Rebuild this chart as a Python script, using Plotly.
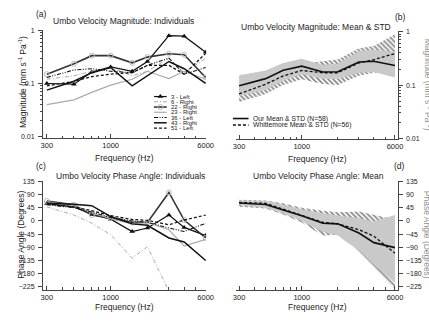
import plotly.graph_objects as go
import numpy as np

# Stimulus frequencies (Hz)
freq = [300, 500, 700, 1000, 1500, 2000, 3000, 4000, 6000]

# (a) Individual umbo velocity magnitudes (mm s^-1 Pa^-1)
mag_3L = [0.10, 0.097, 0.165, 0.205, 0.17, 0.26, 0.80, 0.78, 0.39]
mag_6R = [0.12, 0.14, 0.17, 0.20, 0.14, 0.17, 0.30, 0.16, 0.30]
mag_22R = [0.15, 0.235, 0.335, 0.335, 0.245, 0.315, 0.365, 0.35, 0.13]
mag_23R = [0.04, 0.049, 0.068, 0.093, 0.12, 0.17, 0.124, 0.17, 0.12]
mag_36L = [0.13, 0.18, 0.19, 0.17, 0.16, 0.22, 0.30, 0.15, 0.20]
mag_43R = [0.075, 0.11, 0.16, 0.20, 0.09, 0.14, 0.26, 0.19, 0.10]
mag_51L = [0.09, 0.11, 0.135, 0.15, 0.16, 0.22, 0.22, 0.15, 0.37]

# (c) Individual umbo velocity phase (degrees)
ph_3L = [59, 48, 22, 6, -36, -24, 20, -22, -50]
ph_6R = [48, 20, -8, -47, -127, -88, -240, -300, -330]
ph_22R = [68, 55, 20, 10, -5, -5, 97, 3, -58]
ph_23R = [65, 52, 28, 8, -10, -5, -30, -86, -63]
ph_36L = [55, 45, 30, 12, 0, -5, -24, -36, -8]
ph_43R = [60, 57, 52, 15, -10, -15, -58, -72, -135]
ph_51L = [57, 48, 35, 18, 5, 2, -13, 3, 20]

# (b) Mean magnitude with +/- 1 STD bounds
our_mag_mean = [0.097, 0.132, 0.19, 0.226, 0.176, 0.178, 0.27, 0.28, 0.233]
our_mag_hi = [0.152, 0.188, 0.26, 0.31, 0.24, 0.25, 0.43, 0.46, 0.42]
our_mag_lo = [0.062, 0.082, 0.12, 0.16, 0.13, 0.13, 0.17, 0.176, 0.138]
wh_mag_mean = [0.068, 0.104, 0.148, 0.188, 0.17, 0.17, 0.26, 0.30, 0.39]
wh_mag_hi = [0.095, 0.14, 0.2, 0.25, 0.28, 0.30, 0.49, 0.54, 0.90]
wh_mag_lo = [0.048, 0.068, 0.1, 0.128, 0.105, 0.10, 0.15, 0.17, 0.18]

# (d) Mean phase with +/- 1 STD bounds
our_ph_mean = [61, 56, 37, 18, -8, -10, -41, -74, -91]
our_ph_hi = [70, 68, 55, 40, 26, 20, 9, -2, 20]
our_ph_lo = [54, 45, 25, 0, -38, -50, -100, -150, -210]
wh_ph_mean = [63, 60, 40, 20, -5, -10, -30, -52, -110]
wh_ph_hi = [72, 70, 60, 45, 35, 30, 32, 20, 5]
wh_ph_lo = [48, 42, 22, -5, -50, -47, -105, -160, -235]

ind_names = ["3 - Left", "6 - Right", "22 - Right", "23 - Right",
             "36 - Left", "43 - Right", "51 - Left"]
ind_mag = [mag_3L, mag_6R, mag_22R, mag_23R, mag_36L, mag_43R, mag_51L]
ind_ph = [ph_3L, ph_6R, ph_22R, ph_23R, ph_36L, ph_43R, ph_51L]

# line styles for individual ears
ind_style = [
    dict(line=dict(color="#111", width=1.2), marker=dict(symbol="triangle-up", size=5, color="#111")),
    dict(line=dict(color="#aaa", width=1, dash="4px,2px,1px,2px"), marker=None),
    dict(line=dict(color="#333", width=1.6), marker=dict(symbol="circle-open", size=5, color="#bbb", line=dict(width=1))),
    dict(line=dict(color="#aaa", width=1.2), marker=None),
    dict(line=dict(color="#111", width=1.1, dash="4px,1.5px,1px,1.5px,1px,1.5px"), marker=None),
    dict(line=dict(color="#111", width=1.5), marker=None),
    dict(line=dict(color="#111", width=1.2, dash="3px,2px"), marker=None),
]

fig = go.Figure()

for name, ys, ph, st in zip(ind_names, ind_mag, ind_ph, ind_style):
    for xa, ya, vals in (("x", "y", ys), ("x3", "y3", ph)):
        kw = dict(x=freq, y=vals, xaxis=xa, yaxis=ya, name=name, showlegend=False,
                  line=st["line"], mode="lines+markers" if st["marker"] else "lines")
        if st["marker"]:
            kw["marker"] = st["marker"]
        fig.add_trace(go.Scatter(**kw))

hatch = dict(shape="\\", fgcolor="#111", bgcolor="rgba(255,255,255,0)", size=3.5, solidity=0.5)
band = "#c9c9c9"


def band_traces(xa, ya, wlo, whi, olo, ohi, omean, wmean):
    fig.add_trace(go.Scatter(x=freq, y=wlo, xaxis=xa, yaxis=ya, mode="lines",
                             line=dict(width=0), showlegend=False, hoverinfo="skip"))
    fig.add_trace(go.Scatter(x=freq, y=whi, xaxis=xa, yaxis=ya, mode="lines",
                             line=dict(width=0), fill="tonexty", fillcolor="rgba(0,0,0,0)",
                             fillpattern=hatch, showlegend=False, hoverinfo="skip"))
    fig.add_trace(go.Scatter(x=freq, y=olo, xaxis=xa, yaxis=ya, mode="lines",
                             line=dict(width=0), showlegend=False, hoverinfo="skip"))
    fig.add_trace(go.Scatter(x=freq, y=ohi, xaxis=xa, yaxis=ya, mode="lines",
                             line=dict(width=0), fill="tonexty", fillcolor=band,
                             showlegend=False, hoverinfo="skip"))
    fig.add_trace(go.Scatter(x=freq, y=omean, xaxis=xa, yaxis=ya, mode="lines",
                             line=dict(color="#111", width=1.6), showlegend=False))
    fig.add_trace(go.Scatter(x=freq, y=wmean, xaxis=xa, yaxis=ya, mode="lines",
                             line=dict(color="#111", width=1.3, dash="3px,2px"), showlegend=False))


band_traces("x2", "y2", wh_mag_lo, wh_mag_hi, our_mag_lo, our_mag_hi, our_mag_mean, wh_mag_mean)
band_traces("x4", "y4", wh_ph_lo, wh_ph_hi, our_ph_lo, our_ph_hi, our_ph_mean, wh_ph_mean)

# legend keys drawn on a pixel-space overlay
W, H = 429, 322
leg_y0, leg_dy = 94.3, 5.35
for i, (name, st) in enumerate(zip(ind_names, ind_style)):
    yy = leg_y0 + i * leg_dy
    fig.add_trace(go.Scatter(x=[155, 168], y=[yy, yy], xaxis="x5", yaxis="y5", mode="lines",
                             line=st["line"], showlegend=False, hoverinfo="skip"))
    if st["marker"]:
        fig.add_trace(go.Scatter(x=[161.5], y=[yy], xaxis="x5", yaxis="y5", mode="markers",
                                 marker=st["marker"], showlegend=False, hoverinfo="skip"))
mean_names = ["Our Mean & STD (N=58)", "Whittemore Mean & STD (N=56)"]
mean_lines = [dict(color="#111", width=1.6), dict(color="#111", width=1.3, dash="3px,2px")]
for i, ln in enumerate(mean_lines):
    yy = 116.7 + i * 6.6
    fig.add_trace(go.Scatter(x=[236, 252], y=[yy, yy], xaxis="x5", yaxis="y5", mode="lines",
                             line=ln, showlegend=False, hoverinfo="skip"))

FONT = "Liberation Sans, Arial, sans-serif"
TXT = "#222"
AX = "#444"

xminor = [400, 500, 600, 700, 800, 900, 2000, 3000, 4000, 5000]
yminor = [k * 0.01 for k in range(2, 10)] + [k * 0.1 for k in range(2, 10)]


def xax(domain, rng, anchor):
    return dict(type="log", domain=domain, range=rng, anchor=anchor,
                tickvals=[300, 1000, 6000], ticktext=["300", "1000", "6000"],
                ticks="inside", ticklen=4, tickwidth=1, tickcolor=AX,
                showline=True, linecolor=AX, linewidth=1, showgrid=False, zeroline=False,
                tickfont=dict(size=7.5, color=TXT, family=FONT), ticklabelstandoff=0,
                minor=dict(tickmode="array", tickvals=xminor, ticks="inside", ticklen=2.5,
                           tickcolor=AX, showgrid=False))


def ylog(domain, rng, anchor, side):
    return dict(type="log", domain=domain, range=rng, anchor=anchor, side=side,
                tickvals=[0.01, 0.1, 1], ticktext=["0.01", "0.1", "1"],
                ticks="outside", ticklen=4, tickcolor=AX,
                showline=True, linecolor=AX, linewidth=1, showgrid=False, zeroline=False,
                tickfont=dict(size=7, color=TXT, family=FONT), ticklabelstandoff=2,
                minor=dict(tickmode="array", tickvals=yminor, ticks="outside", ticklen=2,
                           tickcolor=AX, showgrid=False))


def yph(domain, anchor, side):
    return dict(domain=domain, range=[-234, 135], anchor=anchor, side=side,
                tickvals=list(range(-225, 136, 45)),
                ticks="outside", ticklen=4, tickcolor=AX,
                showline=True, linecolor=AX, linewidth=1, showgrid=False, zeroline=False,
                tickfont=dict(size=7, color=TXT, family=FONT), ticklabelstandoff=2)


xa_rng = [np.log10(300) - 0.032, np.log10(6000) + 0.004]
xb_rng = [np.log10(300) - 0.027, np.log10(6000) + 0.022]
xa_dom = [41 / W, 208.5 / W]
xb_dom = [239 / W, 405 / W]
ya_dom = [1 - 137 / H, 1 - 27 / H]
yb_dom = [1 - 138 / H, 1 - 28 / H]
yc_dom = [1 - 291 / H, 1 - 180.7 / H]

fig.update_layout(
    width=W, height=H, autosize=False,
    margin=dict(l=0, r=0, t=0, b=0),
    paper_bgcolor="white", plot_bgcolor="rgba(0,0,0,0)",
    font=dict(family=FONT, color=TXT),
    showlegend=False,
    xaxis=xax(xa_dom, xa_rng, "y"),
    yaxis=ylog(ya_dom, [-2.037, 0.0], "x", "left"),
    xaxis2=xax(xb_dom, xb_rng, "y2"),
    yaxis2=ylog(yb_dom, [-2.02, 0.005], "x2", "right"),
    xaxis3=xax(xa_dom, xa_rng, "y3"),
    yaxis3=yph(yc_dom, "x3", "left"),
    xaxis4=xax(xb_dom, xb_rng, "y4"),
    yaxis4=yph(yc_dom, "x4", "right"),
    xaxis5=dict(domain=[0, 1], range=[0, W], visible=False, anchor="y5"),
    yaxis5=dict(domain=[0, 1], range=[H, 0], visible=False, anchor="x5"),
)


def txt(x, y, s, size, xanchor="center", **kw):
    fig.add_annotation(x=x / W, y=1 - y / H, xref="paper", yref="paper", text=s,
                       xanchor=xanchor, yanchor="middle", showarrow=False,
                       font=dict(size=size, color=TXT, family=FONT), **kw)


# panel titles and labels
txt(124, 17.5, "Umbo Velocity Magnitude: Individuals", 8.5)
txt(321, 23, "Umbo Velocity Magnitude: Mean &amp; STD", 8.5)
txt(131, 175, "Umbo Velocity Phase Angle: Individuals", 8.5)
txt(324, 175, "Umbo Velocity Phase Angle: Mean", 8.5)
txt(40, 10, "(a)", 8.5)
txt(408, 13, "(b)", 8.5)
txt(39, 165, "(c)", 8.5)
txt(407, 165, "(d)", 8.5)

# axis titles
txt(125, 157, "Frequency (Hz)", 8.5)
txt(323, 158, "Frequency (Hz)", 8.5)
txt(125, 308.5, "Frequency (Hz)", 8.5)
txt(323, 308.5, "Frequency (Hz)", 8.5)
txt(20, 79, "Magnitude (mm s<sup>-1</sup> Pa<sup>-1</sup>)", 8.5, textangle=-90)
txt(18.5, 235, "Phase Angle (Degrees)", 8.5, textangle=-90)
txt(436, 82, "Magnitude (mm s<sup>-1</sup> Pa<sup>-1</sup>)", 8.5, textangle=90, opacity=0.5)
txt(436, 235, "Phase Angle (Degrees)", 8.5, textangle=90, opacity=0.5)

# legend texts
for i, name in enumerate(ind_names):
    txt(170, leg_y0 + i * leg_dy, name, 6.0, xanchor="left")
for i, name in enumerate(mean_names):
    txt(255, 116.7 + i * 6.6, name.replace("&", "&amp;"), 6.8, xanchor="left")

fig.write_html("out.html")
